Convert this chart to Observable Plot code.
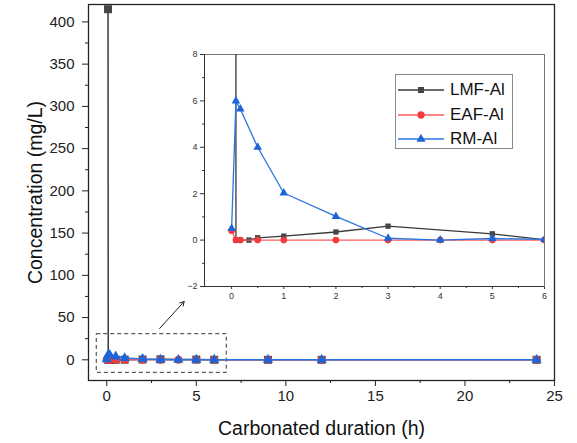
<!DOCTYPE html>
<html>
<head>
<meta charset="utf-8">
<script src="https://cdn.jsdelivr.net/npm/d3@7"></script>
<script src="https://cdn.jsdelivr.net/npm/@observablehq/plot@0.6"></script>
<style>
  html, body { margin: 0; padding: 0; background: #fff; }
  #wrap { position: relative; width: 577px; height: 443px; font-family: "Liberation Sans", Arial, sans-serif; }
  #wrap svg { position: absolute; overflow: visible; }
  #legend { position: absolute; left: 395px; top: 74px; width: 116px; height: 73px; border: 1px solid #8a8a8a; background: #fff; }
  #legend .row { position: absolute; left: 0; height: 24px; display: flex; align-items: center; }
  #legend .row span { font-size: 17px; color: #111; margin-left: 6px; }
</style>
</head>
<body>
<div id="wrap"></div>
<script>
// ---- data ----
const seriesNames = ["LMF-Al", "EAF-Al", "RM-Al"];
const tLMF = [0.07, 0.083, 0.167, 0.333, 0.5, 1, 2, 3, 5, 6, 9, 12, 24];
const cLMF = [415, 0, 0, 0, 0.1, 0.17, 0.35, 0.6, 0.27, 0.02, 0, 0, 0];
const tEAF = [0, 0.083, 0.167, 0.5, 1, 2, 3, 4, 5, 6, 9, 12, 24];
const cEAF = [0.4, 0, 0, 0, 0, 0, 0, 0, 0, 0, 0, 0, 0];
const tRM = [0, 0.083, 0.167, 0.5, 1, 2, 3, 4, 5, 6, 9, 12, 24];
const cRM = [0.5, 6.0, 5.65, 4.0, 2.03, 1.02, 0.08, 0, 0.07, 0.03, 0, 0, 0];

const mainXTicks = [0, 5, 10, 15, 20, 25];
const mainXMinor = [2.5, 7.5, 12.5, 17.5, 22.5];
const mainYTicks = [0, 50, 100, 150, 200, 250, 300, 350, 400];
const mainYMinor = [25, 75, 125, 175, 225, 275, 325, 375];
const insetXTicks = [0, 1, 2, 3, 4, 5, 6];
const insetXMinor = [0.5, 1.5, 2.5, 3.5, 4.5, 5.5];
const insetYTicks = [-2, 0, 2, 4, 6, 8];
const insetYMinor = [-1, 1, 3, 5, 7];

const zoomBox = [{x1: -0.56, x2: 6.7, y1: -15.4, y2: 30.3}];
const zoomArrow = [{x1: 2.95, y1: 37, x2: 4.32, y2: 69}];

const xTitle = "Carbonated duration (h)";
const yTitle = "Concentration (mg/L)";

// ---- styles ----
const sty = {
  "LMF-Al": {line: "#3a3a3a", fill: "#454545", symbol: "square"},
  "EAF-Al": {line: "#ff5a5a", fill: "#f03c3c", symbol: "circle"},
  "RM-Al":  {line: "#2a74e0", fill: "#1b65d8", symbol: "triangle"}
};

const rows = (ts, cs, s) => ts.map((t, i) => ({t, c: cs[i], s}));
const data = {
  "LMF-Al": rows(tLMF, cLMF, "LMF-Al"),
  "EAF-Al": rows(tEAF, cEAF, "EAF-Al"),
  "RM-Al": rows(tRM, cRM, "RM-Al")
};

const font = "'Liberation Sans', Arial, sans-serif";
const blank = () => "";
const intFmt = d3.format("d");

function seriesMarks(rMain, width, clip) {
  const out = [];
  for (const n of seriesNames) {
    out.push(Plot.line(data[n], {x: "t", y: "c", stroke: sty[n].line, strokeWidth: width, clip}));
    out.push(Plot.dot(data[n], {x: "t", y: "c", symbol: sty[n].symbol, fill: sty[n].fill, stroke: "none", r: rMain[n], clip}));
  }
  return out;
}

// ---- main chart ----
const main = Plot.plot({
  width: 577, height: 443,
  marginLeft: 88, marginRight: 23, marginTop: 4, marginBottom: 63,
  style: {fontFamily: font, fontSize: "15px", color: "#222", background: "transparent"},
  x: {domain: [-1.02, 25]},
  y: {domain: [-24.5, 420.6]},
  marks: [
    Plot.axisX({ticks: mainXTicks, tickSize: 6, tickPadding: 4, fontSize: 15, tickFormat: intFmt, label: null}),
    Plot.axisX({ticks: mainXMinor, tickSize: 3, tickFormat: blank, label: null}),
    Plot.axisY({ticks: mainYTicks, tickSize: 6, tickPadding: 8, fontSize: 15, tickFormat: intFmt, label: null}),
    Plot.axisY({ticks: mainYMinor, tickSize: 3, tickFormat: blank, label: null}),
    Plot.rect(zoomBox, {x1: "x1", x2: "x2", y1: "y1", y2: "y2", fill: "none", stroke: "#333", strokeWidth: 1, strokeDasharray: "4,3"}),
    Plot.arrow(zoomArrow, {x1: "x1", y1: "y1", x2: "x2", y2: "y2", stroke: "#222", strokeWidth: 1, headLength: 7}),
    ...seriesMarks({"LMF-Al": 4.5, "EAF-Al": 4, "RM-Al": 3.8}, 1.5, false),
    Plot.frame({stroke: "#222", strokeWidth: 1.3}),
    Plot.text([yTitle], {frameAnchor: "left", dx: -53, rotate: -90, textAnchor: "middle", fontSize: 19.5, fill: "#111"}),
    Plot.text([xTitle], {frameAnchor: "bottom", dy: 54, textAnchor: "middle", fontSize: 19.5, fill: "#111"})
  ]
});
main.style.left = "0px"; main.style.top = "0px";

// ---- inset chart ----
const inset = Plot.plot({
  width: 380, height: 262,
  marginLeft: 30, marginRight: 10, marginTop: 10, marginBottom: 20,
  style: {fontFamily: font, fontSize: "9px", color: "#333", background: "transparent"},
  x: {domain: [-0.52, 6]},
  y: {domain: [-2, 8]},
  marks: [
    Plot.axisX({ticks: insetXTicks, tickSize: 3, tickPadding: 3, fontSize: 9, tickFormat: intFmt, label: null}),
    Plot.axisX({ticks: insetXMinor, tickSize: 2, tickFormat: blank, label: null}),
    Plot.axisY({ticks: insetYTicks, tickSize: 4, tickPadding: 3, fontSize: 9, tickFormat: intFmt, label: null}),
    Plot.axisY({ticks: insetYMinor, tickSize: 2, tickFormat: blank, label: null}),
    Plot.frame({stroke: "#777", strokeWidth: 1}),
    Plot.ruleX([-0.52], {stroke: "#333", strokeWidth: 1}),
    Plot.ruleY([-2], {stroke: "#333", strokeWidth: 1}),
    ...seriesMarks({"LMF-Al": 3, "EAF-Al": 3.3, "RM-Al": 3.2}, 1.3, true)
  ]
});
inset.style.left = "174px"; inset.style.top = "44px";

const wrap = document.getElementById("wrap");
wrap.appendChild(main);
wrap.appendChild(inset);

// ---- legend ----
const legend = document.createElement("div");
legend.id = "legend";
seriesNames.forEach((n, i) => {
  const row = document.createElement("div");
  row.className = "row";
  row.style.top = (3 + i * 24.5) + "px";
  const sym = d3.create("svg").attr("width", 46).attr("height", 24).style("position", "static").style("margin-left", "2px");
  sym.append("line").attr("x1", 0).attr("x2", 46).attr("y1", 12).attr("y2", 12).attr("stroke", sty[n].line).attr("stroke-width", 1.3);
  const symType = {square: d3.symbolSquare, circle: d3.symbolCircle, triangle: d3.symbolTriangle}[sty[n].symbol];
  const size = {square: 36, circle: 42, triangle: 36}[sty[n].symbol];
  sym.append("path").attr("d", d3.symbol(symType, size)()).attr("transform", "translate(23,12)").attr("fill", sty[n].fill);
  row.appendChild(sym.node());
  const sp = document.createElement("span");
  sp.textContent = n;
  row.appendChild(sp);
  legend.appendChild(row);
});
wrap.appendChild(legend);
</script>
</body>
</html>
